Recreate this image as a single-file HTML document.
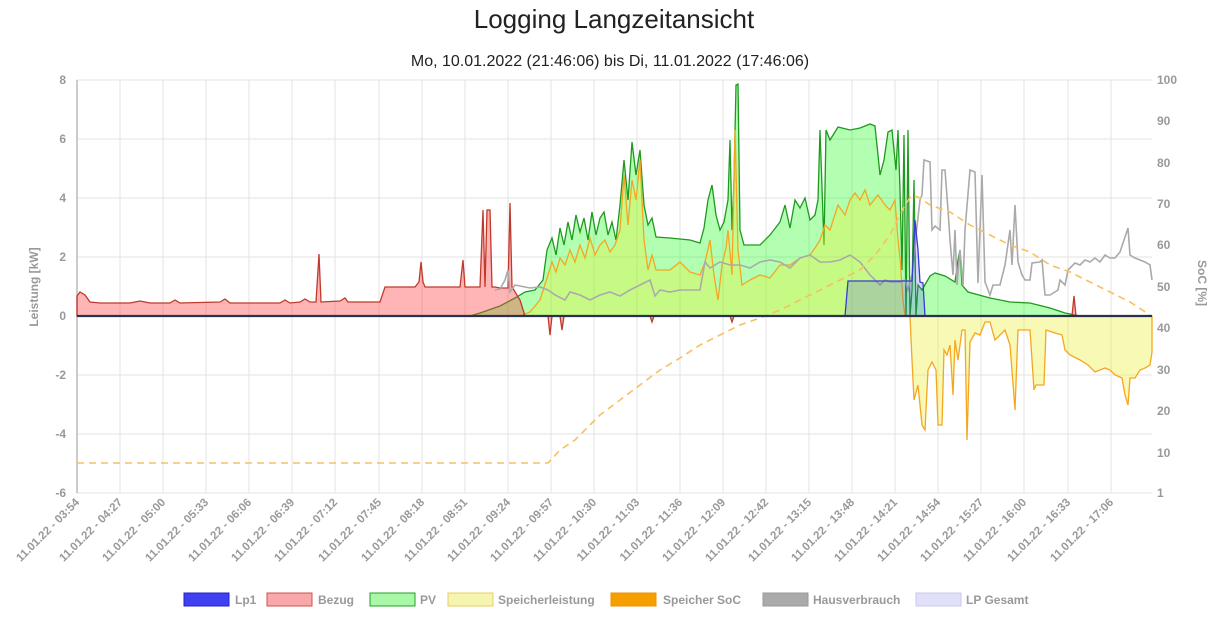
<!DOCTYPE html>
<html><head><meta charset="utf-8"><style>
body{margin:0;background:#fff;width:1228px;height:618px;overflow:hidden;font-family:"Liberation Sans",sans-serif}
svg{position:absolute;left:0;top:0}
</style></head><body>
<svg width="1228" height="618" viewBox="0 0 1228 618" font-family="Liberation Sans, sans-serif">
<text x="614" y="28" text-anchor="middle" font-size="26" fill="#222">Logging Langzeitansicht</text>
<text x="610" y="66" text-anchor="middle" font-size="16" fill="#222">Mo, 10.01.2022 (21:46:06) bis Di, 11.01.2022 (17:46:06)</text>
<g stroke="#e3e3e3" stroke-width="1">
<line x1="77" y1="80" x2="1152" y2="80"/><line x1="77" y1="139" x2="1152" y2="139"/><line x1="77" y1="198" x2="1152" y2="198"/><line x1="77" y1="257" x2="1152" y2="257"/><line x1="77" y1="375" x2="1152" y2="375"/><line x1="77" y1="434" x2="1152" y2="434"/><line x1="77" y1="493" x2="1152" y2="493"/>
<line x1="120" y1="80" x2="120" y2="493"/><line x1="163" y1="80" x2="163" y2="493"/><line x1="206" y1="80" x2="206" y2="493"/><line x1="249" y1="80" x2="249" y2="493"/><line x1="292" y1="80" x2="292" y2="493"/><line x1="335" y1="80" x2="335" y2="493"/><line x1="379" y1="80" x2="379" y2="493"/><line x1="422" y1="80" x2="422" y2="493"/><line x1="465" y1="80" x2="465" y2="493"/><line x1="508" y1="80" x2="508" y2="493"/><line x1="551" y1="80" x2="551" y2="493"/><line x1="594" y1="80" x2="594" y2="493"/><line x1="637" y1="80" x2="637" y2="493"/><line x1="680" y1="80" x2="680" y2="493"/><line x1="723" y1="80" x2="723" y2="493"/><line x1="766" y1="80" x2="766" y2="493"/><line x1="809" y1="80" x2="809" y2="493"/><line x1="852" y1="80" x2="852" y2="493"/><line x1="895" y1="80" x2="895" y2="493"/><line x1="938" y1="80" x2="938" y2="493"/><line x1="981" y1="80" x2="981" y2="493"/><line x1="1024" y1="80" x2="1024" y2="493"/><line x1="1068" y1="80" x2="1068" y2="493"/><line x1="1111" y1="80" x2="1111" y2="493"/>
</g>
<line x1="77" y1="80" x2="77" y2="493" stroke="#bbb" stroke-width="1.5"/>
<!-- PV -->
<polygon fill="rgba(0,255,0,0.3)" stroke="#1e9a1e" stroke-width="1.3" points="470,316 480,313 500,306 515,298 525,292 535,290 543,280 547,250 552,238 556,255 560,228 564,245 568,222 572,240 576,215 580,232 584,218 588,240 592,212 596,235 600,218 604,212 608,235 612,222 616,240 620,205 624,160 628,200 632,142 636,175 640,150 644,205 648,225 652,218 656,237 670,238 690,240 700,243 704,228 708,200 712,185 716,215 720,230 724,222 728,200 730,140 732,230 734,180 736,85 738,84 740,230 744,245 760,245 770,235 780,222 785,205 790,228 795,200 800,208 805,198 810,220 815,215 818,200 820,130 824,245 826,130 830,140 838,127 850,130 860,128 870,124 875,126 878,155 880,175 884,160 888,132 892,130 896,170 898,130 900,190 902,270 904,135 906,316 908,130 910,316 912,290 914,180 916,316 918,285 922,290 926,283 930,276 935,273 945,276 955,282 958,260 960,250 962,285 968,292 990,298 1010,302 1030,303 1050,308 1065,313 1080,316"/>
<!-- Speicher -->
<polygon fill="rgba(235,240,60,0.38)" stroke="#f5a623" stroke-width="1.3" points="520,316 530,312 540,300 548,275 552,262 556,272 560,258 565,265 570,250 575,262 580,245 585,258 590,238 595,255 600,245 605,240 610,252 615,245 620,230 624,175 628,225 632,180 636,200 640,160 644,240 648,270 652,255 656,270 670,270 680,262 690,272 700,275 705,262 710,240 714,275 718,300 722,265 726,248 728,230 732,275 735,130 738,250 742,285 750,280 760,275 770,278 780,265 790,265 800,258 810,255 815,248 820,240 825,225 830,230 838,205 845,215 850,200 855,193 860,200 865,190 870,205 878,195 885,205 890,210 895,200 898,240 900,258 903,300 905,316 910,316 912,360 914,400 918,385 922,425 925,430 928,370 932,362 936,370 938,425 942,425 944,350 947,355 950,345 953,395 955,340 958,360 962,330 965,330 967,440 970,342 975,333 980,335 985,322 990,322 995,340 1000,335 1005,330 1010,345 1015,410 1018,330 1025,330 1030,330 1032,360 1034,390 1036,385 1044,385 1046,330 1055,333 1062,335 1065,350 1070,355 1080,360 1088,365 1095,372 1100,370 1105,368 1110,370 1115,375 1122,378 1125,395 1128,405 1130,378 1135,378 1140,370 1145,368 1150,365 1152,352 1152,316"/>
<!-- Bezug -->
<polygon fill="rgba(255,60,60,0.38)" stroke="#c0392b" stroke-width="1.3" points="77,316 77,296 80,292 85,295 90,302 100,303 130,303 140,301 150,303 170,303 175,300 180,303 220,302 225,299 230,303 280,303 285,300 290,303 300,302 305,299 310,302 316,302 319,254 321,302 340,301 345,298 348,302 380,302 385,287 415,287 419,282 421,262 423,282 425,287 460,287 463,260 465,287 480,287 483,210 485,287 487,210 490,210 492,287 495,287 500,288 508,288 510,203 512,287 520,300 525,316 548,316 550,335 552,316 560,316 562,330 564,316 650,316 652,322 654,316 730,316 732,322 734,316 1072,316 1074,296 1076,316 1152,316"/>
<!-- Haus -->
<polyline fill="none" stroke="#aaa" stroke-width="1.6" points="495,290 500,289 505,280 508,270 510,292 515,285 520,286 530,288 540,287 548,290 555,295 565,300 570,292 580,295 590,300 600,295 610,292 620,296 630,290 640,285 650,280 655,296 660,290 670,292 680,290 690,290 700,290 705,262 710,268 720,262 730,265 740,265 750,268 760,262 770,260 780,262 790,268 800,258 810,255 820,262 830,262 840,260 850,255 860,262 870,275 880,285 885,280 890,282 900,282 905,280 908,290 912,275 916,235 920,200 922,195 924,160 930,162 932,230 935,226 940,230 942,170 945,170 948,210 950,240 953,275 955,230 957,285 960,250 963,285 965,230 970,170 975,172 978,283 982,175 985,282 990,295 993,285 1000,285 1005,265 1010,230 1012,265 1015,205 1018,262 1022,275 1025,280 1030,280 1032,263 1040,262 1042,260 1045,295 1050,295 1058,290 1060,280 1065,285 1068,270 1070,268 1075,263 1080,265 1085,260 1090,262 1095,258 1100,262 1105,255 1110,258 1115,258 1120,252 1124,240 1128,228 1130,255 1135,258 1140,260 1145,262 1150,265 1152,280"/>
<!-- Lp1 -->
<polygon fill="rgba(60,60,255,0.2)" stroke="#3a3ad0" stroke-width="1.3" points="845,316 848,281 912,281 915,220 918,250 920,282 923,283 925,316"/>
<!-- SoC -->
<polyline fill="none" stroke="#f7c060" stroke-width="1.6" stroke-dasharray="7,5" points="77,463 548,463 560,450 575,440 590,425 600,415 620,400 640,385 660,370 680,358 700,345 720,335 740,325 760,318 780,310 800,300 820,290 840,280 860,270 875,255 890,235 905,205 912,195 920,198 930,205 950,212 970,225 990,235 1010,245 1030,252 1050,265 1070,272 1090,282 1110,292 1130,302 1150,315"/>
<line x1="77" y1="316" x2="1152" y2="316" stroke="#2a3050" stroke-width="2.2"/>
<g font-size="12" font-weight="bold" fill="#999" text-anchor="end">
<text x="66" y="84">8</text><text x="66" y="143">6</text><text x="66" y="202">4</text><text x="66" y="261">2</text><text x="66" y="320">0</text><text x="66" y="379">-2</text><text x="66" y="438">-4</text><text x="66" y="497">-6</text>
</g>
<g font-size="12" font-weight="bold" fill="#999">
<text x="1157" y="84">100</text><text x="1157" y="125">90</text><text x="1157" y="167">80</text><text x="1157" y="208">70</text><text x="1157" y="249">60</text><text x="1157" y="291">50</text><text x="1157" y="332">40</text><text x="1157" y="374">30</text><text x="1157" y="415">20</text><text x="1157" y="457">10</text><text x="1157" y="497">1</text>
</g>
<text transform="translate(38,287) rotate(-90)" text-anchor="middle" font-size="12" font-weight="bold" fill="#999">Leistung [kW]</text>
<text transform="translate(1198,283) rotate(90)" text-anchor="middle" font-size="12" font-weight="bold" fill="#999">SoC [%]</text>
<g font-size="11.5" font-weight="bold" fill="#999" text-anchor="end">
<text transform="translate(80,503) rotate(-45)">11.01.22 - 03:54</text>
<text transform="translate(123,503) rotate(-45)">11.01.22 - 04:27</text>
<text transform="translate(166,503) rotate(-45)">11.01.22 - 05:00</text>
<text transform="translate(209,503) rotate(-45)">11.01.22 - 05:33</text>
<text transform="translate(252,503) rotate(-45)">11.01.22 - 06:06</text>
<text transform="translate(295,503) rotate(-45)">11.01.22 - 06:39</text>
<text transform="translate(338,503) rotate(-45)">11.01.22 - 07:12</text>
<text transform="translate(382,503) rotate(-45)">11.01.22 - 07:45</text>
<text transform="translate(425,503) rotate(-45)">11.01.22 - 08:18</text>
<text transform="translate(468,503) rotate(-45)">11.01.22 - 08:51</text>
<text transform="translate(511,503) rotate(-45)">11.01.22 - 09:24</text>
<text transform="translate(554,503) rotate(-45)">11.01.22 - 09:57</text>
<text transform="translate(597,503) rotate(-45)">11.01.22 - 10:30</text>
<text transform="translate(640,503) rotate(-45)">11.01.22 - 11:03</text>
<text transform="translate(683,503) rotate(-45)">11.01.22 - 11:36</text>
<text transform="translate(726,503) rotate(-45)">11.01.22 - 12:09</text>
<text transform="translate(769,503) rotate(-45)">11.01.22 - 12:42</text>
<text transform="translate(812,503) rotate(-45)">11.01.22 - 13:15</text>
<text transform="translate(855,503) rotate(-45)">11.01.22 - 13:48</text>
<text transform="translate(898,503) rotate(-45)">11.01.22 - 14:21</text>
<text transform="translate(941,503) rotate(-45)">11.01.22 - 14:54</text>
<text transform="translate(984,503) rotate(-45)">11.01.22 - 15:27</text>
<text transform="translate(1027,503) rotate(-45)">11.01.22 - 16:00</text>
<text transform="translate(1071,503) rotate(-45)">11.01.22 - 16:33</text>
<text transform="translate(1114,503) rotate(-45)">11.01.22 - 17:06</text>
</g>
<g font-size="12" font-weight="bold" fill="#999">
<rect x="184" y="593" width="45" height="13" fill="#4040f0" stroke="#2020d0"/><text x="235" y="604">Lp1</text>
<rect x="267" y="593" width="45" height="13" fill="#f8a8a8" stroke="#d05050"/><text x="318" y="604">Bezug</text>
<rect x="370" y="593" width="45" height="13" fill="#a8f8a8" stroke="#20a020"/><text x="420" y="604">PV</text>
<rect x="448" y="593" width="45" height="13" fill="#f5f5b0" stroke="#e8d060"/><text x="498" y="604">Speicherleistung</text>
<rect x="611" y="593" width="45" height="13" fill="#f5a000" stroke="#f09000"/><text x="663" y="604">Speicher SoC</text>
<rect x="763" y="593" width="45" height="13" fill="#aaa" stroke="#999"/><text x="813" y="604">Hausverbrauch</text>
<rect x="916" y="593" width="45" height="13" fill="#e0e0f8" stroke="#c8c8ee"/><text x="966" y="604">LP Gesamt</text>
</g>
</svg>
</body></html>
